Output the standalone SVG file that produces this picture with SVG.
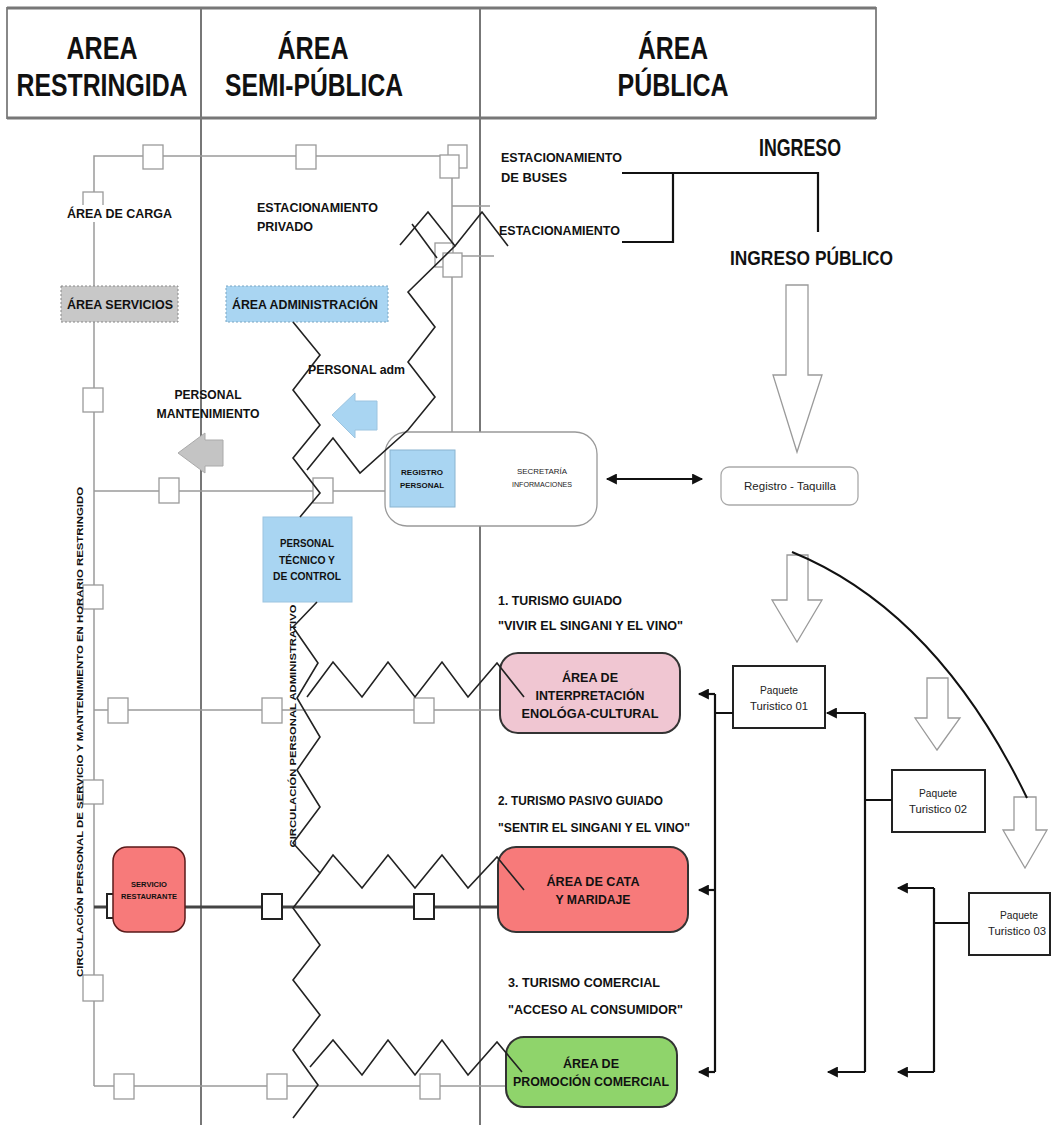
<svg xmlns="http://www.w3.org/2000/svg" width="1052" height="1125" viewBox="0 0 1052 1125">
<defs>
<style>
.t{font-family:"Liberation Sans Narrow","Liberation Sans",Arial,sans-serif;font-weight:bold;fill:#111;text-anchor:middle}
.tl{font-family:"Liberation Sans Narrow","Liberation Sans",Arial,sans-serif;font-weight:bold;fill:#111;text-anchor:start}
.n{font-family:"Liberation Sans Narrow","Liberation Sans",Arial,sans-serif;font-weight:normal;fill:#222;text-anchor:middle}
.hd{font-size:32px}
.lb{font-size:13px}
.gl{fill:none;stroke:#9a9a9a;stroke-width:1.5}
.sq{fill:#fff;stroke:#9a9a9a;stroke-width:1.3}
.sqb{fill:#fff;stroke:#222;stroke-width:2}
.zz{fill:none;stroke:#222;stroke-width:1.6;stroke-linejoin:miter}
.bl{fill:none;stroke:#111;stroke-width:2.2}
.hol{fill:#fff;stroke:#9a9a9a;stroke-width:1.3}
.pk{fill:#fff;stroke:#222;stroke-width:2}
</style>
<marker id="ah" viewBox="0 0 10 10" refX="9" refY="5" markerWidth="15" markerHeight="11" markerUnits="userSpaceOnUse" orient="auto-start-reverse"><path d="M0,0 L10,5 L0,10 z" fill="#111"/></marker>
</defs>
<rect width="1052" height="1125" fill="#fff"/>

<!-- header -->
<g id="header">
<rect x="7" y="8" width="869" height="110" fill="#fff" stroke="#888" stroke-width="2"/>
<line x1="7" y1="8" x2="876" y2="8" stroke="#777" stroke-width="3"/>
<line x1="7" y1="118" x2="876" y2="118" stroke="#777" stroke-width="3"/>
<text class="t hd" x="102" y="59" textLength="71" lengthAdjust="spacingAndGlyphs">AREA</text>
<text class="t hd" x="102" y="96" textLength="171" lengthAdjust="spacingAndGlyphs">RESTRINGIDA</text>
<text class="t hd" x="313" y="59" textLength="71" lengthAdjust="spacingAndGlyphs">ÁREA</text>
<text class="t hd" x="314" y="96" textLength="178" lengthAdjust="spacingAndGlyphs">SEMI-PÚBLICA</text>
<text class="t hd" x="673" y="59" textLength="70" lengthAdjust="spacingAndGlyphs">ÁREA</text>
<text class="t hd" x="673" y="96" textLength="111" lengthAdjust="spacingAndGlyphs">PÚBLICA</text>
</g>
<g id="columns">
<line x1="201" y1="8" x2="201" y2="1125" stroke="#777" stroke-width="2"/>
<line x1="480" y1="8" x2="480" y2="1125" stroke="#777" stroke-width="2"/>
</g>

<!-- circulation network (gray) -->
<g id="circulation">
<path class="gl" d="M94,1086 V156 H460"/>
<path class="gl" d="M94,491 H385"/>
<path class="gl" d="M94,710 H500"/>
<path d="M94,907 H500" fill="none" stroke="#444" stroke-width="3"/>
<path class="gl" d="M94,1086 H506"/>
<path class="gl" d="M452,177 V432"/>
<path class="gl" d="M452,206 H490"/>
<path class="gl" d="M460,256 H494"/>
<rect class="sq" x="143" y="145" width="20" height="24"/>
<rect class="sq" x="296" y="145" width="20" height="24"/>
<rect class="sq" x="448" y="145" width="19" height="23"/>
<rect class="sq" x="440" y="155" width="19" height="23"/>
<rect class="sq" x="435" y="243" width="18" height="24"/>
<rect class="sq" x="443" y="253" width="19" height="24"/>
<rect class="sq" x="83" y="192" width="20" height="22"/>
<rect class="sq" x="83" y="388" width="20" height="24"/>
<rect class="sq" x="83" y="585" width="20" height="24"/>
<rect class="sq" x="83" y="780" width="20" height="24"/>
<rect class="sq" x="83" y="975" width="20" height="26"/>
<rect class="sq" x="159" y="478" width="20" height="25"/>
<rect class="sq" x="313" y="478" width="20" height="25"/>
<rect class="sq" x="108" y="698" width="20" height="25"/>
<rect class="sq" x="262" y="698" width="20" height="25"/>
<rect class="sq" x="414" y="698" width="20" height="25"/>
<rect class="sqb" x="262" y="894" width="20" height="25"/>
<rect class="sqb" x="414" y="894" width="20" height="25"/>
<rect class="sqb" x="107" y="894" width="10" height="24" stroke-width="1.5"/>
<rect class="sq" x="114" y="1074" width="20" height="25"/>
<rect class="sq" x="267" y="1074" width="20" height="25"/>
<rect class="sq" x="420" y="1074" width="20" height="25"/>
<text class="t" font-size="9.5" transform="translate(83,732) rotate(-90)" textLength="490" lengthAdjust="spacingAndGlyphs">CIRCULACIÓN PERSONAL DE SERVICIO Y MANTENIMIENTO EN HORARIO RESTRINGIDO</text>
</g>

<!-- labels -->
<g id="labels">
<rect x="64" y="205" width="110" height="17" fill="#fff"/>
<text class="tl lb" x="67" y="218" textLength="105" lengthAdjust="spacingAndGlyphs">ÁREA DE CARGA</text>
<text class="tl lb" x="257" y="212" textLength="121" lengthAdjust="spacingAndGlyphs">ESTACIONAMIENTO</text>
<text class="tl lb" x="257" y="231" textLength="56" lengthAdjust="spacingAndGlyphs">PRIVADO</text>
<text class="tl lb" x="501" y="162" textLength="121" lengthAdjust="spacingAndGlyphs">ESTACIONAMIENTO</text>
<text class="tl lb" x="501" y="182" textLength="66" lengthAdjust="spacingAndGlyphs">DE BUSES</text>
<text class="tl lb" x="499" y="235" textLength="121" lengthAdjust="spacingAndGlyphs">ESTACIONAMIENTO</text>
<text class="tl" font-size="23" x="759" y="156" textLength="82" lengthAdjust="spacingAndGlyphs">INGRESO</text>
<text class="tl" font-size="21" x="730" y="265" textLength="163" lengthAdjust="spacingAndGlyphs">INGRESO PÚBLICO</text>
<text class="tl lb" x="308" y="374" textLength="97" lengthAdjust="spacingAndGlyphs">PERSONAL adm</text>
<text class="t lb" x="208" y="399" textLength="67" lengthAdjust="spacingAndGlyphs">PERSONAL</text>
<text class="t lb" x="208" y="418" textLength="103" lengthAdjust="spacingAndGlyphs">MANTENIMIENTO</text>
<text class="tl lb" x="498" y="605" textLength="124" lengthAdjust="spacingAndGlyphs">1. TURISMO GUIADO</text>
<text class="tl lb" x="498" y="630" textLength="185" lengthAdjust="spacingAndGlyphs">"VIVIR EL SINGANI Y EL VINO"</text>
<text class="tl lb" x="498" y="805" textLength="165" lengthAdjust="spacingAndGlyphs">2. TURISMO PASIVO GUIADO</text>
<text class="tl lb" x="498" y="832" textLength="192" lengthAdjust="spacingAndGlyphs">"SENTIR EL SINGANI Y EL VINO"</text>
<text class="tl lb" x="508" y="987" textLength="152" lengthAdjust="spacingAndGlyphs">3. TURISMO COMERCIAL</text>
<text class="tl lb" x="508" y="1014" textLength="175" lengthAdjust="spacingAndGlyphs">"ACCESO AL CONSUMIDOR"</text>
<text class="t" font-size="8.5" transform="translate(296,726) rotate(-90)" textLength="243" lengthAdjust="spacingAndGlyphs">CIRCULACIÓN PERSONAL ADMINISTRATIVO</text>
</g>

<!-- nodes -->
<g id="area-servicios">
<rect x="61" y="286" width="117" height="36" fill="#c8c8c8" stroke="#888" stroke-dasharray="2,2"/>
<text class="t lb" x="120" y="309" textLength="106" lengthAdjust="spacingAndGlyphs">ÁREA SERVICIOS</text>
</g>
<g id="area-administracion">
<rect x="226" y="286" width="162" height="36" fill="#a9d5f2" stroke="#7aa6c2" stroke-dasharray="2,2"/>
<text class="t lb" x="305" y="309" textLength="146" lengthAdjust="spacingAndGlyphs">ÁREA ADMINISTRACIÓN</text>
</g>
<g id="flecha-mantenimiento">
<polygon points="178,453 205,433 205,440 223,440 223,466 205,466 205,473" fill="#c4c4c4" stroke="#aaa"/>
</g>
<g id="flecha-adm">
<polygon points="332,415 355,393 355,401 377,401 377,430 355,430 355,438" fill="#a9d5f2" stroke="#9cc4e0"/>
</g>
<g id="secretaria">
<rect x="385" y="432" width="212" height="94" rx="22" fill="#fff" stroke="#999" stroke-width="1.3"/>
<text class="n" font-size="7.5" x="542" y="474" textLength="50" lengthAdjust="spacingAndGlyphs">SECRETARÍA</text>
<text class="n" font-size="7.5" x="542" y="487" textLength="60" lengthAdjust="spacingAndGlyphs">INFORMACIONES</text>
</g>
<g id="registro-personal">
<rect x="390" y="450" width="65" height="57" fill="#a9d5f2" stroke="#8ab4d0"/>
<text class="t" font-size="7.5" x="422" y="475" fill="#1a2a44" textLength="42" lengthAdjust="spacingAndGlyphs">REGISTRO</text>
<text class="t" font-size="7.5" x="422" y="488" fill="#1a2a44" textLength="44" lengthAdjust="spacingAndGlyphs">PERSONAL</text>
</g>
<g id="registro-taquilla">
<rect x="721" y="467" width="137" height="38" rx="8" fill="#fff" stroke="#aaa" stroke-width="1.3"/>
<text class="n" font-size="11" x="790" y="490" textLength="92" lengthAdjust="spacingAndGlyphs">Registro - Taquilla</text>
</g>
<g id="personal-tecnico">
<rect x="263" y="517" width="89" height="85" fill="#a9d5f2" stroke="#9cc4e0"/>
<text class="t" font-size="10" x="307" y="547" textLength="54" lengthAdjust="spacingAndGlyphs">PERSONAL</text>
<text class="t" font-size="10" x="307" y="564" textLength="56" lengthAdjust="spacingAndGlyphs">TÉCNICO Y</text>
<text class="t" font-size="10" x="307" y="580" textLength="68" lengthAdjust="spacingAndGlyphs">DE CONTROL</text>
</g>
<g id="servicio-restaurante">
<rect x="113" y="847" width="72" height="85" rx="14" fill="#f77a7a" stroke="#5a1a1a" stroke-width="1.5"/>
<text class="t" font-size="7" x="149" y="887" fill="#6b0f0f" textLength="36" lengthAdjust="spacingAndGlyphs">SERVICIO</text>
<text class="t" font-size="7" x="149" y="899" fill="#6b0f0f" textLength="56" lengthAdjust="spacingAndGlyphs">RESTAURANTE</text>
</g>
<g id="area-interpretacion">
<rect x="500" y="653" width="180" height="80" rx="18" fill="#f0c6d2" stroke="#333" stroke-width="2"/>
<text class="t lb" x="590" y="682" fill="#222" textLength="56" lengthAdjust="spacingAndGlyphs">ÁREA DE</text>
<text class="t lb" x="590" y="700" fill="#222" textLength="109" lengthAdjust="spacingAndGlyphs">INTERPRETACIÓN</text>
<text class="t lb" x="590" y="718" fill="#222" textLength="137" lengthAdjust="spacingAndGlyphs">ENOLÓGA-CULTURAL</text>
</g>
<g id="area-cata">
<rect x="498" y="847" width="190" height="85" rx="18" fill="#f77a7a" stroke="#333" stroke-width="2"/>
<text class="t lb" x="593" y="886" fill="#6b1010" textLength="93" lengthAdjust="spacingAndGlyphs">ÁREA DE CATA</text>
<text class="t lb" x="593" y="904" fill="#6b1010" textLength="75" lengthAdjust="spacingAndGlyphs">Y MARIDAJE</text>
</g>
<g id="area-promocion">
<rect x="506" y="1037" width="171" height="70" rx="18" fill="#8fd46b" stroke="#333" stroke-width="2"/>
<text class="t lb" x="591" y="1068" fill="#1c3312" textLength="56" lengthAdjust="spacingAndGlyphs">ÁREA DE</text>
<text class="t lb" x="591" y="1086" fill="#1c3312" textLength="156" lengthAdjust="spacingAndGlyphs">PROMOCIÓN COMERCIAL</text>
</g>
<g id="paquete-01">
<rect class="pk" x="733" y="666" width="92" height="62"/>
<text class="n" font-size="10" x="779" y="694" textLength="38" lengthAdjust="spacingAndGlyphs">Paquete</text>
<text class="n" font-size="10" x="779" y="710" textLength="58" lengthAdjust="spacingAndGlyphs">Turistico 01</text>
</g>
<g id="paquete-02">
<rect class="pk" x="892" y="770" width="93" height="62"/>
<text class="n" font-size="10" x="938" y="797" textLength="38" lengthAdjust="spacingAndGlyphs">Paquete</text>
<text class="n" font-size="10" x="938" y="813" textLength="58" lengthAdjust="spacingAndGlyphs">Turistico 02</text>
</g>
<g id="paquete-03">
<rect class="pk" x="969" y="893" width="81" height="62"/>
<text class="n" font-size="10" x="1019" y="919" textLength="38" lengthAdjust="spacingAndGlyphs">Paquete</text>
<text class="n" font-size="10" x="1017" y="935" textLength="58" lengthAdjust="spacingAndGlyphs">Turistico 03</text>
</g>
<g id="flechas-huecas">
<polygon class="hol" points="786,285 808,285 808,375 822,375 797,452 773,375 786,375"/>
<polygon class="hol" points="787,555 808,555 808,600 822,600 797,642 772,600 787,600"/>
<polygon class="hol" points="927,678 948,678 948,718 960,718 937,750 915,718 927,718"/>
<polygon class="hol" points="1014,797 1036,797 1036,830 1047,830 1025,868 1003,830 1014,830"/>
</g>

<!-- connectors -->
<g id="connectors">
<polyline class="zz" points="400,245 428,212 455,246 482,212 508,246"/>
<line class="zz" x1="412" y1="224" x2="437" y2="258"/>
<polyline class="zz" points="455,246 408,292 435,327 408,362 435,397 408,430 360,473 333,438 307,470"/>
<polyline class="zz" points="293,322 320,355 293,390 320,425 293,458 320,493 300,517"/>
<polyline class="zz" points="317,602 293,627 318,663 297,698 320,737 297,770 320,807 293,843 320,873 293,908 320,945 293,980 320,1015 293,1050 318,1085 293,1118"/>
<polyline class="zz" points="307,697 333,662 362,697 388,662 415,697 442,662 468,697 497,663 524,697"/>
<polyline class="zz" points="320,873 333,855 362,888 388,855 415,888 442,855 468,888 497,857 524,890"/>
<polyline class="zz" points="310,1067 333,1040 362,1075 388,1040 415,1075 442,1040 468,1075 497,1042 522,1072"/>
<path class="bl" d="M622,173 H818 V232 M673,173 V242 H622"/>
<path class="bl" d="M607,479 H702" marker-start="url(#ah)" marker-end="url(#ah)"/>
<path d="M792,552 C885,590 965,670 1027,798" fill="none" stroke="#111" stroke-width="2"/>
<path class="bl" d="M715,694 V1072 M715,713 H733"/>
<path class="bl" d="M715,694 H699" marker-end="url(#ah)"/>
<path class="bl" d="M715,890 H699" marker-end="url(#ah)"/>
<path class="bl" d="M715,1072 H699" marker-end="url(#ah)"/>
<path class="bl" d="M865,713 V1072 M892,800 H865"/>
<path class="bl" d="M865,713 H827" marker-end="url(#ah)"/>
<path class="bl" d="M865,1072 H828" marker-end="url(#ah)"/>
<path class="bl" d="M934,888 V1072 M934,923 H969"/>
<path class="bl" d="M934,888 H898" marker-end="url(#ah)"/>
<path class="bl" d="M934,1072 H898" marker-end="url(#ah)"/>
</g>
</svg>
